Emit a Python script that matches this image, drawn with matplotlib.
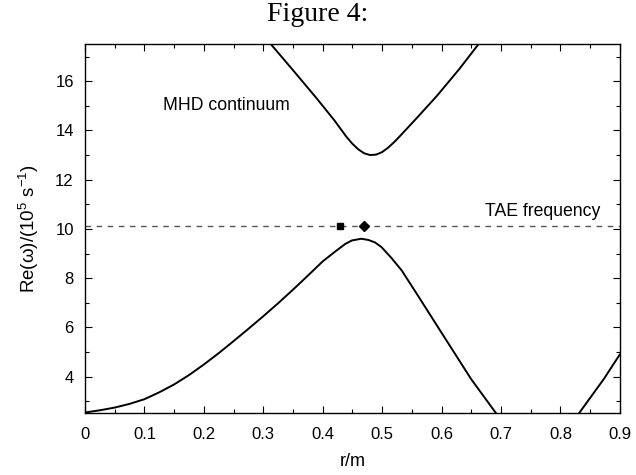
import numpy as np
import matplotlib
matplotlib.use("Agg")
import matplotlib.pyplot as plt
from matplotlib.ticker import MultipleLocator

# lower continuum branch
low_x = [0.0, 0.025, 0.05, 0.075, 0.10, 0.125, 0.15, 0.175, 0.20, 0.225, 0.25, 0.275,
         0.30, 0.325, 0.35, 0.375, 0.40, 0.421, 0.438, 0.449, 0.465, 0.477, 0.488,
         0.499, 0.516, 0.533, 0.561, 0.60, 0.65, 0.692]
low_y = [2.54, 2.63, 2.74, 2.89, 3.08, 3.36, 3.68, 4.06, 4.49, 4.95, 5.44, 5.94,
         6.45, 6.98, 7.53, 8.10, 8.68, 9.08, 9.39, 9.53, 9.60, 9.55, 9.45,
         9.26, 8.81, 8.31, 7.26, 5.78, 3.89, 2.50]

# lower branch coming back up at the right edge
low2_x = [0.831, 0.873, 0.90]
low2_y = [2.50, 3.90, 4.90]

# upper continuum branch
up_x = [0.313, 0.35, 0.39, 0.42, 0.44, 0.45, 0.46, 0.47, 0.48, 0.49, 0.50, 0.51,
        0.52, 0.53, 0.56, 0.592, 0.63, 0.662]
up_y = [17.5, 16.45, 15.3, 14.4, 13.74, 13.46, 13.23, 13.07, 13.0, 13.02, 13.12, 13.3,
        13.52, 13.77, 14.55, 15.4, 16.5, 17.5]

tae_freq = 10.135
marker_sq_x = 0.429
marker_dia_x = 0.469

xtick_labels = ['0', '0.1', '0.2', '0.3', '0.4', '0.5', '0.6', '0.7', '0.8', '0.9']

plt.rcParams['font.family'] = ['Liberation Sans', 'DejaVu Sans']
plt.rcParams['mathtext.fontset'] = 'custom'
plt.rcParams['mathtext.rm'] = 'Liberation Sans'

fig = plt.figure(figsize=(6.36, 4.75), dpi=100)
ax = fig.add_axes([0.1336, 0.1295, 0.841, 0.7772])

for xs, ys in [(low_x, low_y), (low2_x, low2_y), (up_x, up_y)]:
    ax.plot(xs, ys, color='black', lw=1.4, solid_joinstyle='round')
ax.axhline(tae_freq, color='#555555', lw=1.0, dashes=(4, 4))
ax.plot([marker_sq_x], [tae_freq], marker='s', ms=5, color='black', ls='none')
ax.plot([marker_dia_x], [tae_freq], marker='D', ms=5, color='black', ls='none')

ax.text(0.131, 15.0, 'MHD continuum', fontsize=12.7, va='center', ha='left')
ax.text(0.867, 10.7, 'TAE frequency', fontsize=12.7, va='center', ha='right')

ax.set_xlim(0, 0.9)
ax.set_ylim(2.5, 17.5)
ax.set_xticks(np.arange(0, 0.91, 0.1))
ax.set_xticklabels(xtick_labels)
ax.xaxis.set_minor_locator(MultipleLocator(0.05))
ax.yaxis.set_major_locator(MultipleLocator(2))
ax.yaxis.set_minor_locator(MultipleLocator(1))
ax.tick_params(which='both', direction='in', top=True, right=True, labelsize=12)
ax.tick_params(which='major', length=5, width=0.8)
ax.tick_params(axis='x', which='major', pad=10)
ax.tick_params(axis='y', which='major', pad=8)
ax.tick_params(which='minor', length=3, width=0.8)
for s in ax.spines.values():
    s.set_linewidth(1.0)

ax.set_xlabel('r/m', fontsize=13, labelpad=8)
ax.set_ylabel('Re(ω)/(10$^5$ s$^{-1}$)', fontsize=13.5, labelpad=10)

fig.text(0.5, 0.995, 'Figure 4:', ha='center', va='top', fontsize=20,
         family=['Liberation Serif', 'DejaVu Serif'])

fig.savefig('out.png', dpi=100)
